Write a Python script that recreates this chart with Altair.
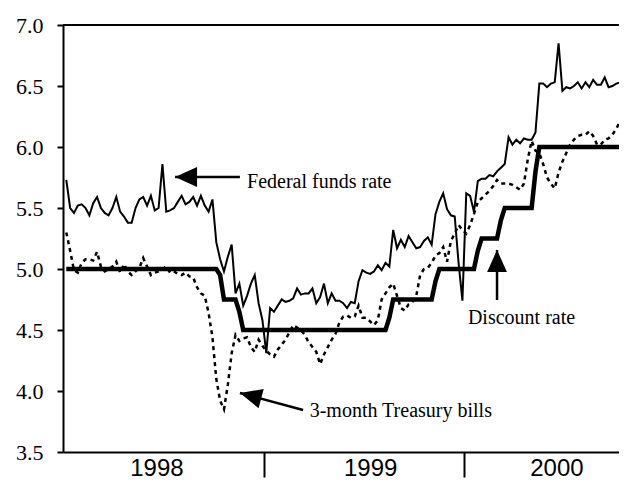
import altair as alt
import pandas as pd

# ---------------- data (weekly averages) ----------------
week_start = "1998-01-07"

fed_funds = [5.73, 5.50, 5.46, 5.52, 5.53, 5.50, 5.44, 5.54, 5.59, 5.50,
             5.46, 5.44, 5.50, 5.59, 5.47, 5.43, 5.38, 5.38, 5.50, 5.57,
             5.59, 5.52, 5.60, 5.48, 5.50, 5.86, 5.47, 5.48, 5.50, 5.55,
             5.60, 5.53, 5.55, 5.59, 5.52, 5.60, 5.52, 5.47, 5.57, 5.22,
             5.08, 4.98, 5.10, 5.20, 4.80, 4.88, 4.70, 4.78, 4.88, 4.95,
             4.72, 4.58, 4.31, 4.68, 4.65, 4.70, 4.75, 4.73, 4.74, 4.76,
             4.84, 4.79, 4.80, 4.80, 4.84, 4.72, 4.77, 4.88, 4.72, 4.80,
             4.74, 4.74, 4.72, 4.68, 4.73, 4.72, 4.90, 4.99, 4.97, 4.96,
             4.98, 5.03, 4.99, 5.05, 5.02, 5.32, 5.17, 5.24, 5.18, 5.27,
             5.22, 5.17, 5.18, 5.23, 5.26, 5.20, 5.45, 5.55, 5.62, 5.49,
             5.44, 5.43, 5.05, 4.74, 5.62, 5.60, 5.47, 5.72, 5.74, 5.74,
             5.77, 5.76, 5.80, 5.83, 5.86, 6.08, 6.02, 6.06, 6.03, 6.07,
             6.06, 6.06, 6.12, 6.52, 6.52, 6.49, 6.52, 6.53, 6.85, 6.46,
             6.49, 6.48, 6.50, 6.53, 6.48, 6.53, 6.49, 6.55, 6.51, 6.51,
             6.57, 6.49, 6.50, 6.52, 6.53]

tbills = [5.30, 5.15, 4.99, 4.97, 5.05, 5.08, 5.08, 5.07, 5.14, 5.02,
          4.98, 5.00, 5.02, 5.06, 4.97, 5.04, 4.98, 4.95, 4.98, 5.01,
          5.09, 5.02, 4.95, 4.97, 4.98, 5.00, 5.02, 4.97, 4.98, 4.96,
          4.95, 4.97, 4.94, 4.93, 4.85, 4.80, 4.78, 4.64, 4.44, 4.10,
          3.92, 3.85, 4.05, 4.31, 4.46, 4.41, 4.43, 4.44, 4.36, 4.32,
          4.42, 4.37, 4.33, 4.30, 4.28, 4.34, 4.38, 4.42, 4.48, 4.54,
          4.52, 4.50, 4.46, 4.40, 4.36, 4.32, 4.22, 4.30, 4.36, 4.42,
          4.47, 4.56, 4.61, 4.62, 4.60, 4.61, 4.70, 4.60, 4.60, 4.57,
          4.54, 4.58, 4.75, 4.80, 4.85, 4.88, 4.78, 4.68, 4.66, 4.71,
          4.73, 4.78, 4.95, 5.00, 5.01, 5.05, 5.11, 5.13, 5.18, 5.06,
          5.23, 5.29, 5.36, 5.32, 5.29, 5.36, 5.45, 5.55, 5.58, 5.61,
          5.64, 5.68, 5.73, 5.70, 5.70, 5.70, 5.69, 5.67, 5.65, 5.70,
          5.90, 6.05, 5.97, 5.95, 5.86, 5.75, 5.70, 5.66, 5.79, 5.88,
          5.95, 6.02, 6.06, 6.09, 6.10, 6.10, 6.13, 6.09, 6.02, 6.02,
          6.06, 6.07, 6.10, 6.15, 6.21]

discount = [5.00, 5.00, 5.00, 5.00, 5.00, 5.00, 5.00, 5.00, 5.00, 5.00,
            5.00, 5.00, 5.00, 5.00, 5.00, 5.00, 5.00, 5.00, 5.00, 5.00,
            5.00, 5.00, 5.00, 5.00, 5.00, 5.00, 5.00, 5.00, 5.00, 5.00,
            5.00, 5.00, 5.00, 5.00, 5.00, 5.00, 5.00, 5.00, 5.00, 5.00,
            4.95, 4.75, 4.75, 4.75, 4.75, 4.65, 4.50, 4.50, 4.50, 4.50,
            4.50, 4.50, 4.50, 4.50, 4.50, 4.50, 4.50, 4.50, 4.50, 4.50,
            4.50, 4.50, 4.50, 4.50, 4.50, 4.50, 4.50, 4.50, 4.50, 4.50,
            4.50, 4.50, 4.50, 4.50, 4.50, 4.50, 4.50, 4.50, 4.50, 4.50,
            4.50, 4.50, 4.50, 4.50, 4.60, 4.75, 4.75, 4.75, 4.75, 4.75,
            4.75, 4.75, 4.75, 4.75, 4.75, 4.75, 4.90, 5.00, 5.00, 5.00,
            5.00, 5.00, 5.00, 5.00, 5.00, 5.00, 5.00, 5.15, 5.25, 5.25,
            5.25, 5.25, 5.25, 5.40, 5.50, 5.50, 5.50, 5.50, 5.50, 5.50,
            5.50, 5.50, 5.80, 6.00, 6.00, 6.00, 6.00, 6.00, 6.00, 6.00,
            6.00, 6.00, 6.00, 6.00, 6.00, 6.00, 6.00, 6.00, 6.00, 6.00,
            6.00, 6.00, 6.00, 6.00, 6.00]

y_ticks = [3.5, 4.0, 4.5, 5.0, 5.5, 6.0, 6.5, 7.0]

years = ["1998", "1999", "2000"]
year_label_dates = ["1998-06-21", "1999-07-15", "2000-06-18"]

ann_text = ["Federal funds rate", "3-month Treasury bills", "Discount rate"]
ann_date = ["1998-12-02", "1999-03-26", "2000-01-08"]
ann_value = [5.71, 3.84, 4.60]

arrow_tip_date = ["1998-07-24", "1998-11-19", "2000-03-01"]
arrow_tip_value = [5.754, 3.984, 5.156]
arrow_tail_date = ["1998-11-19", "1999-03-14", "2000-03-01"]
arrow_tail_value = [5.754, 3.844, 4.746]
arrow_angle = [0, 15, 90]

# ---------------- tables ----------------
dates = pd.date_range(week_start, periods=len(fed_funds), freq="7D")
df = pd.concat([
    pd.DataFrame({"date": dates, "value": discount, "series": "Discount rate"}),
    pd.DataFrame({"date": dates, "value": fed_funds, "series": "Federal funds rate"}),
    pd.DataFrame({"date": dates, "value": tbills, "series": "3-month Treasury bills"}),
])
df["date"] = df["date"].dt.strftime("%Y-%m-%d")

ann_df = pd.DataFrame({"date": ann_date, "value": ann_value, "text": ann_text})
arrow_df = pd.DataFrame({"d1": arrow_tip_date, "v1": arrow_tip_value,
                         "d2": arrow_tail_date, "v2": arrow_tail_value,
                         "angle": arrow_angle})
year_df = pd.DataFrame({"date": year_label_dates, "text": years})

x_scale = alt.Scale(domain=[alt.DateTime(year=1998, month=1, date=1),
                            alt.DateTime(year=2000, month=10, date=9)])
y_scale = alt.Scale(domain=[3.5, 7.0], nice=False, zero=False)

x_axis = alt.Axis(values=[alt.DateTime(year=1999, month=1, date=1),
                          alt.DateTime(year=2000, month=1, date=1)],
                  labels=False, title=None, grid=False, tickSize=25, tickWidth=2,
                  tickColor="black", domainColor="black", domainWidth=2)
y_axis = alt.Axis(values=y_ticks, format=".1f", title=None, grid=False,
                  tickSize=6, tickWidth=2, tickColor="black",
                  domainColor="black", domainWidth=2,
                  labelFont="Liberation Serif", labelFontSize=22,
                  labelColor="black", labelPadding=14)

base = alt.Chart(df)

discount_line = base.transform_filter(alt.datum.series == "Discount rate").mark_line(
    color="black", strokeWidth=4.5, clip=True
).encode(
    x=alt.X("date:T", scale=x_scale, axis=x_axis),
    y=alt.Y("value:Q", scale=y_scale, axis=y_axis),
)

fed_line = base.transform_filter(alt.datum.series == "Federal funds rate").mark_line(
    color="black", strokeWidth=2, clip=True
).encode(x="date:T", y="value:Q")

tb_line = base.transform_filter(alt.datum.series == "3-month Treasury bills").mark_line(
    color="black", strokeWidth=2.5, strokeDash=[4, 4], clip=True
).encode(x="date:T", y="value:Q")

top_border = alt.Chart(pd.DataFrame({"v": [7.0]})).mark_rule(
    color="black", strokeWidth=2
).encode(y="v:Q")

ann = alt.Chart(ann_df).mark_text(
    align="left", baseline="middle", font="Liberation Serif", fontSize=20, color="black"
).encode(x="date:T", y="value:Q", text="text:N")

shafts = alt.Chart(arrow_df).mark_rule(color="black", strokeWidth=2.5).encode(
    x="d1:T", x2="d2:T", y="v1:Q", y2="v2:Q"
)

heads = alt.Chart(arrow_df).mark_point(
    shape="M0,0L2,-0.9L2,0.9Z", filled=True, fill="black", stroke=None,
    opacity=1, size=484
).encode(x="d1:T", y="v1:Q", angle=alt.Angle("angle:Q", scale=None))

year_text = alt.Chart(year_df).mark_text(
    align="center", baseline="alphabetic", font="Liberation Sans", fontSize=24,
    color="black", dy=24
).encode(x="date:T", y=alt.datum(3.5), text="text:N")

chart = alt.layer(
    discount_line, fed_line, tb_line, top_border, ann, shafts, heads, year_text
).properties(
    width=556, height=427,
    padding={"left": 55, "top": 17, "right": 0, "bottom": 29},
    autosize=alt.AutoSizeParams(type="none"),
).configure_view(stroke=None)

chart.save("out.html", embed_options={"renderer": "svg", "actions": False})
